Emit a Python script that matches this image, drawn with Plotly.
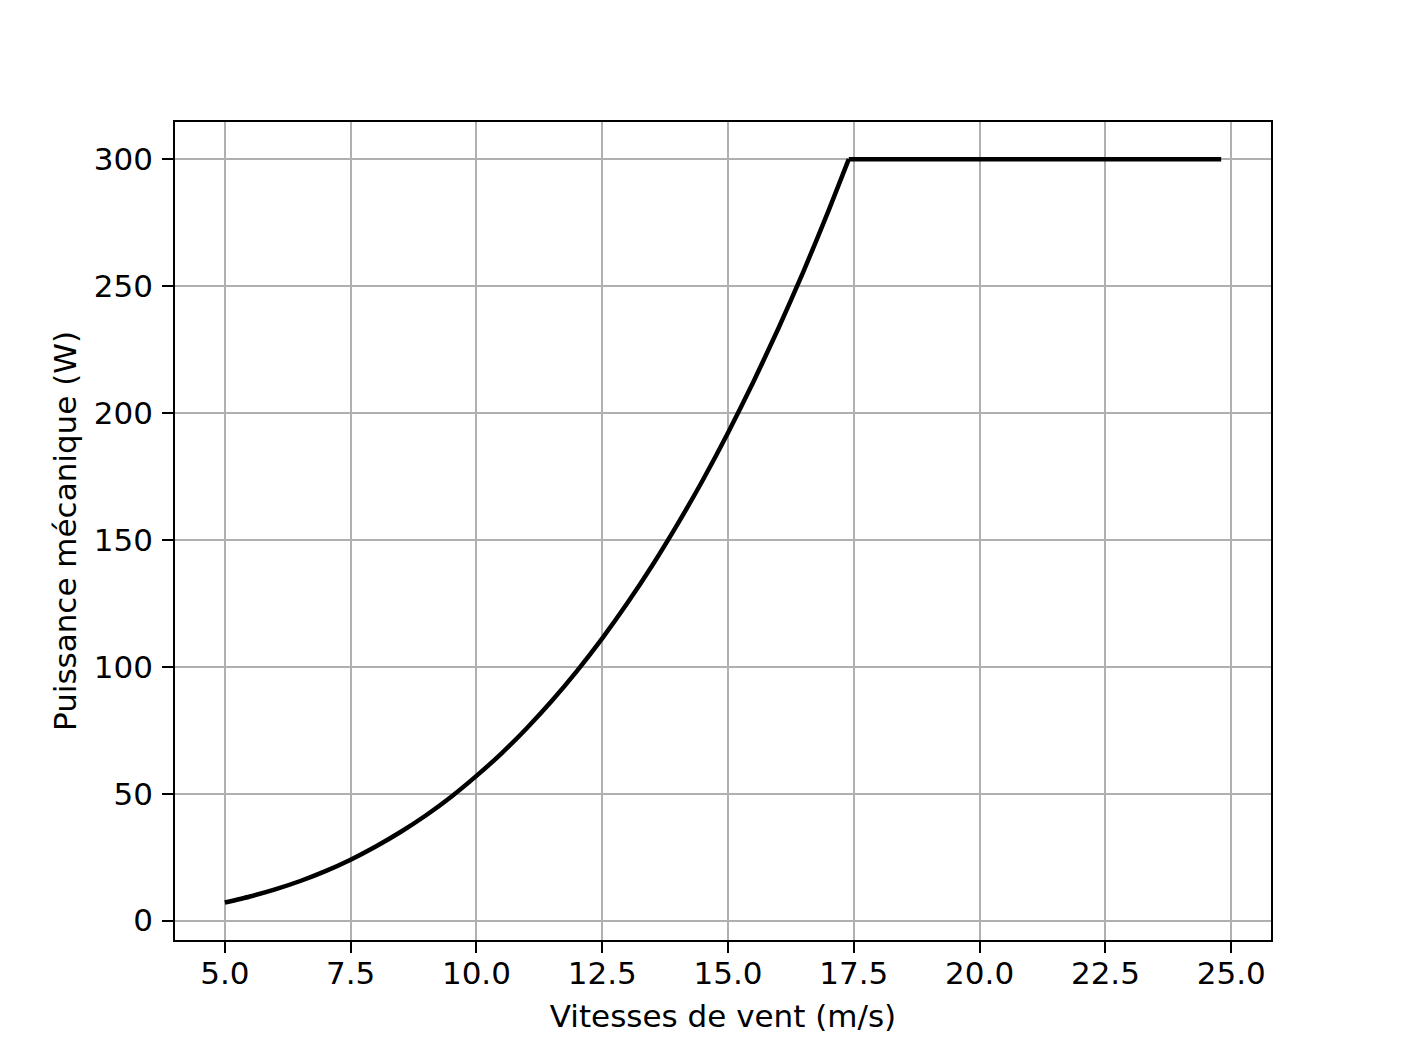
import plotly.graph_objects as go

# Wind speed (m/s) and mechanical power (W)
wind_speed = [5.0, 5.5, 6.0, 6.5, 7.0, 7.5, 8.0, 8.5, 9.0, 9.5, 10.0, 10.5, 11.0, 11.5,
              12.0, 12.5, 13.0, 13.5, 14.0, 14.5, 15.0, 15.5, 16.0, 16.5, 17.0, 17.4, 24.8]
power = [7.1, 9.5, 12.3, 15.6, 19.5, 24.0, 29.2, 35.0, 41.5, 48.8, 57.0, 65.9, 75.8, 86.6,
         98.4, 111.2, 125.1, 140.1, 156.3, 173.6, 192.2, 212.1, 233.3, 255.8, 279.8, 300.0, 300.0]

x_ticks = [5.0, 7.5, 10.0, 12.5, 15.0, 17.5, 20.0, 22.5, 25.0]
y_ticks = [0, 50, 100, 150, 200, 250, 300]

FONT = "DejaVu Sans"
FS = 31
LINE = dict(color="black", width=4.5)

# index where the curve reaches the rated power (start of plateau)
k = power.index(max(power))

fig = go.Figure()
# rising (cubic-like) part, smoothed
fig.add_trace(go.Scatter(x=wind_speed[:k + 1], y=power[:k + 1], mode="lines",
                         line=dict(**LINE, shape="spline", smoothing=0.6),
                         showlegend=False, hoverinfo="x+y"))
# plateau part
fig.add_trace(go.Scatter(x=wind_speed[k:], y=power[k:], mode="lines",
                         line=LINE, showlegend=False, hoverinfo="x+y"))

axis_common = dict(
    showline=True, linecolor="black", linewidth=2.4, mirror=True,
    ticks="outside", ticklen=10.6, tickwidth=2.4, tickcolor="black",
    showgrid=True, gridcolor="#b0b0b0", gridwidth=2,
    zeroline=False,
    tickfont=dict(family=FONT, size=FS, color="black"),
)

fig.update_xaxes(range=[4.01, 25.79], tickvals=x_ticks,
                 ticktext=[f"{v:.1f}" for v in x_ticks],
                 ticklabelstandoff=-6,
                 title=dict(text="Vitesses de vent (m/s)",
                            font=dict(family=FONT, size=FS, color="black"), standoff=15),
                 **axis_common)
fig.update_yaxes(range=[-7.65, 314.65], tickvals=y_ticks,
                 ticktext=[str(v) for v in y_ticks],
                 ticklabelstandoff=3,
                 title=dict(text="Puissance mécanique (W)",
                            font=dict(family=FONT, size=FS, color="black"), standoff=8),
                 **axis_common)

fig.update_layout(
    width=1404, height=1058,
    margin=dict(l=167, r=141, t=114, b=126),
    paper_bgcolor="white", plot_bgcolor="white",
    font=dict(family=FONT, size=FS, color="black"),
)

fig.write_html("out.html")
